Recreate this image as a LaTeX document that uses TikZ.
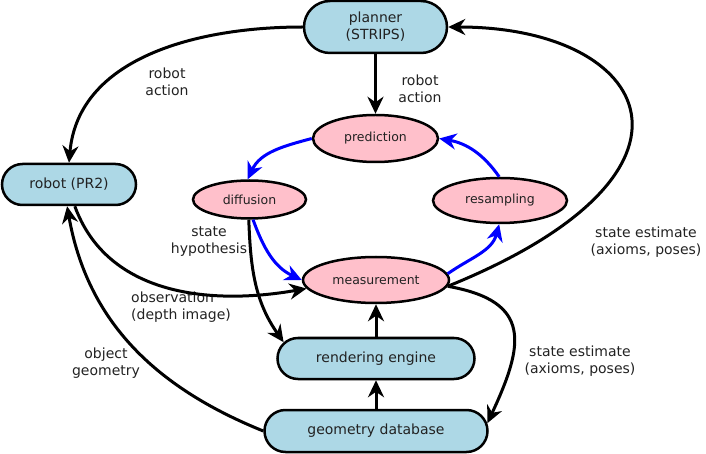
\documentclass[tikz,border=0pt]{standalone}
\usepackage{fontspec}
\setmainfont{DejaVu Sans}
\usetikzlibrary{shapes.geometric,shapes.misc,arrows.meta}
\definecolor{boxblue}{HTML}{ADD8E6}
\definecolor{ellpink}{HTML}{FFC0CB}
\definecolor{txt}{HTML}{222222}
\begin{document}
\begin{tikzpicture}[x=1bp,y=-1bp,
 bluebox/.style={rounded rectangle, draw=black, line width=2.5bp, fill=boxblue, text=txt,
   font=\fontsize{14bp}{17bp}\selectfont, inner sep=0pt, align=center},
 pinkell/.style={ellipse, draw=black, line width=2.5bp, fill=ellpink, text=txt,
   font=\fontsize{12.5bp}{15bp}\selectfont, inner sep=0pt},
 lbl/.style={text=txt, font=\fontsize{14bp}{17bp}\selectfont, align=center, inner sep=0pt},
 edge/.style={line width=3bp, -{Stealth[length=17bp,width=16bp,inset=5.5bp]}},
 bedge/.style={edge, blue}]
\useasboundingbox (0,0) rectangle (706,454);
% nodes
\node[bluebox, minimum width=143bp, minimum height=52bp] (planner) at (375.5,27) {planner\\(STRIPS)};
\node[bluebox, minimum width=134bp, minimum height=41bp] (robot) at (69,184.5) {robot (PR2)};
\node[bluebox, minimum width=197bp, minimum height=41bp] (rendering) at (376,358.5) {rendering engine};
\node[bluebox, minimum width=223bp, minimum height=42bp] (geometry) at (376,431) {geometry database};
\node[pinkell, minimum width=125bp, minimum height=47bp] (prediction) at (375.5,138.5) {prediction};
\node[pinkell, minimum width=113bp, minimum height=38bp] (diffusion) at (249.5,199.5) {diffusion};
\node[pinkell, minimum width=134bp, minimum height=45bp] (resampling) at (500,200.5) {resampling};
\node[pinkell, minimum width=146bp, minimum height=46bp] (measurement) at (376,280) {measurement};
% labels
\node[lbl] (l1) at (167,82) {robot\\action};
\node[lbl] (l2) at (420,89) {robot\\action};
\node[lbl] (l3) at (209,242) {state\\hypothesis};
\node[lbl, align=left, anchor=west] (l4) at (131,307) {observation\\(depth image)};
\node[lbl] (l5) at (106,363) {object\\geometry};
\node[lbl] (l6) at (646,242) {state estimate\\(axioms, poses)};
\node[lbl] (l7) at (580,361) {state estimate\\(axioms, poses)};
% edges
\draw[edge] (planner.west) to[out=180,in=85] (robot.north);
\draw[edge] (planner.south) -- (prediction.north);
\draw[edge] (measurement.-5) to[out=22,in=0,out looseness=3.0,in looseness=2.0] (planner.east);
\draw[edge] (robot.-75) to[out=-70,in=190] (measurement.187);
\draw[edge] (geometry.west) to[out=158,in=-80] (robot.-95);
\draw[bedge] (prediction.west) to[out=195,in=65] (diffusion.95);
\draw[bedge] (diffusion.-80) to[out=-70,in=155] (measurement.west);
\draw[edge] (diffusion.-92) to[out=-88,in=125] (rendering.170);
\draw[bedge] (measurement.5) to[out=35,in=-105] (resampling.-92);
\draw[bedge] (resampling.92) to[out=125,in=-10] (prediction.east);
\draw[edge] (measurement.-5) to[out=-10,in=65,looseness=1.55] (geometry.4);
\draw[edge] (rendering.north) -- (measurement.south);
\draw[edge] (geometry.north) -- (rendering.south);
\end{tikzpicture}
\end{document}
